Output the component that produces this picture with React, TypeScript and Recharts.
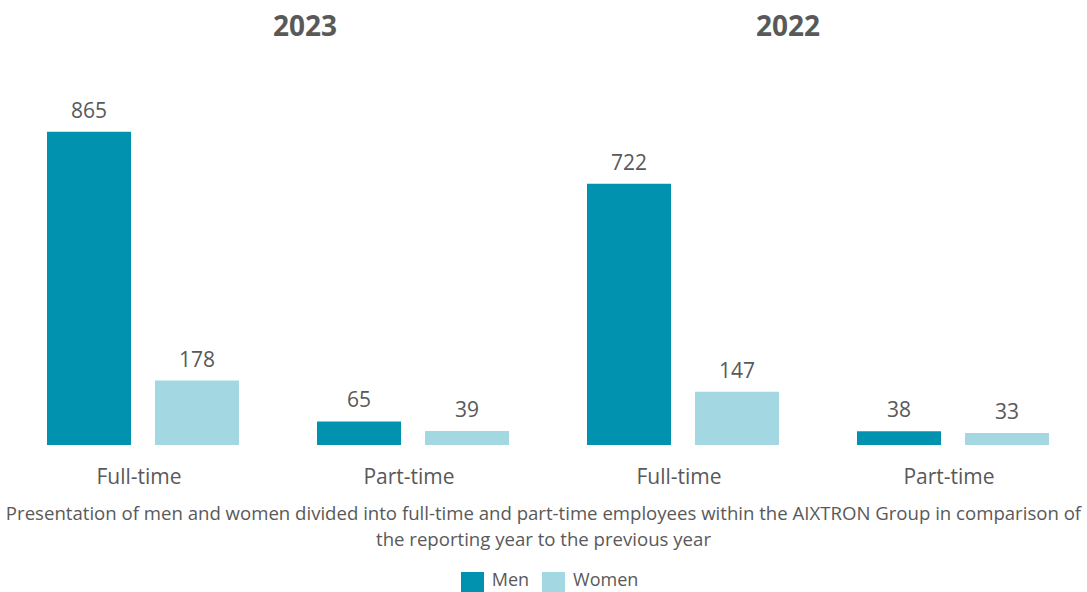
import React from "react";
import { BarChart, Bar, XAxis, YAxis, LabelList } from "recharts";

const years = ["2023", "2022"];
const categories = ["Full-time", "Part-time"];
const menValues = [865, 65, 722, 38];
const womenValues = [178, 39, 147, 33];
const seriesNames = ["Men", "Women"];
const seriesColors = ["#0092AE", "#A3D8E3"];
const caption = [
  "Presentation of men and women divided into full-time and part-time employees within the AIXTRON Group in comparison of",
  "the reporting year to the previous year",
];

const data = years.flatMap((y, yi) =>
  categories.map((c, ci) => ({
    key: `${y} ${c}`,
    label: c,
    men: menValues[yi * categories.length + ci],
    women: womenValues[yi * categories.length + ci],
  }))
);

const FONT = "'Open Sans', 'Noto Sans', sans-serif";
const TEXT = "#595959";

export default function App() {
  return (
    <div
      style={{
        position: "absolute",
        left: 0,
        top: 0,
        width: 1087,
        height: 592,
        overflow: "hidden",
        background: "#fff",
        fontFamily: FONT,
      }}
    >
      <BarChart
        width={1087}
        height={592}
        data={data}
        margin={{ top: 83, left: 8, right: -1, bottom: 107 }}
        barSize={84}
        barGap={24}
      >
        <XAxis
          dataKey="key"
          height={40}
          axisLine={false}
          tickLine={false}
          tickSize={0}
          tickMargin={24}
          interval={0}
          tickFormatter={(v: string) => v.split(" ").slice(1).join(" ")}
          tick={{ fill: TEXT, fontSize: 21, fontFamily: FONT, dx: -4 }}
        />
        <YAxis hide domain={[0, 1000]} />
        <Bar dataKey="men" name={seriesNames[0]} fill={seriesColors[0]} isAnimationActive={false}>
          <LabelList dataKey="men" position="top" offset={14} fill={TEXT} fontSize={21} fontFamily={FONT} />
        </Bar>
        <Bar dataKey="women" name={seriesNames[1]} fill={seriesColors[1]} isAnimationActive={false}>
          <LabelList dataKey="women" position="top" offset={14} fill={TEXT} fontSize={21} fontFamily={FONT} />
        </Bar>
      </BarChart>

      {years.map((y, i) => (
        <div
          key={y}
          style={{
            position: "absolute",
            left: [305, 788][i] - 60,
            width: 120,
            top: 6,
            textAlign: "center",
            fontSize: 28,
            fontWeight: 700,
            color: TEXT,
            lineHeight: "38px",
          }}
        >
          {y}
        </div>
      ))}

      <div
        style={{
          position: "absolute",
          left: 0,
          width: 1087,
          top: 500,
          textAlign: "center",
          fontSize: 18.6,
          lineHeight: "26px",
          color: TEXT,
          whiteSpace: "nowrap",
        }}
      >
        {caption.map((l) => (
          <div key={l}>{l}</div>
        ))}
      </div>

      <div
        style={{
          position: "absolute",
          left: 6,
          width: 1087,
          top: 568,
          height: 24,
          display: "flex",
          justifyContent: "center",
          alignItems: "flex-start",
          gap: 13,
          color: TEXT,
          fontSize: 18,
          lineHeight: "23px",
        }}
      >
        {seriesNames.map((n, i) => (
          <div key={n} style={{ display: "flex", alignItems: "flex-start", gap: 8, height: 23 }}>
            <span style={{ width: 23, height: 20, marginTop: 4, background: seriesColors[i], display: "inline-block" }} />
            <span style={{ display: "inline-block", height: 23, lineHeight: "23px" }}>{n}</span>
          </div>
        ))}
      </div>
    </div>
  );
}
